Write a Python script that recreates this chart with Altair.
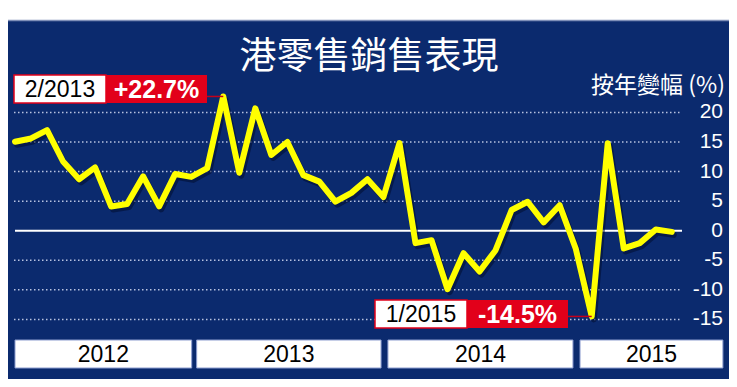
import altair as alt
import pandas as pd

# ---- data ----
values = [15.05, 15.6, 17.0, 11.7, 8.7, 10.7, 4.1, 4.5, 9.2, 4.1, 9.6, 9.1,
          10.6, 22.7, 9.8, 20.7, 12.8, 15.0, 9.4, 8.3, 4.9, 6.4, 8.7, 5.7,
          14.8, -2.1, -1.6, -9.9, -3.8, -6.9, -3.3, 3.5, 4.9, 1.4, 4.3, -3.0,
          -14.5, 14.8, -3.0, -2.1, 0.2, -0.2]
months = list(range(len(values)))  # 0 = 1/2012
y_ticks = [20, 15, 10, 5, -5, -10, -15]
tick_labels = ["20", "15", "10", "5", "0", "-5", "-10", "-15"]
tick_values = [20, 15, 10, 5, 0, -5, -10, -15]
years = ["2012", "2013", "2014", "2015"]
year_start = [0.0, 11.34, 23.28, 35.27]
year_end = [11.03, 22.85, 34.83, 44.19]
ann_month = [13, 36]
ann_value = [22.7, -14.5]
ann_date = ["2/2013", "1/2015"]
ann_pct = ["+22.7%", "-14.5%"]
title_text = "港零售銷售表現"
unit_text = "按年變幅 (%)"

W, H = 721, 371
BG = "#0b2a6e"
RED = "#e2001a"
NUM_FONT = "Liberation Sans, Arial, sans-serif"
CJK_FONT = "Noto Sans CJK TC, Noto Sans CJK SC, sans-serif"

xs = alt.Scale(domain=[-0.437, 44.57], nice=False, zero=False)
ys = alt.Scale(domain=[-25.08, 37.66], nice=False, zero=False)

df = pd.DataFrame({"m": months, "v": values})
grid_df = pd.DataFrame({"v": y_ticks})
zero_df = pd.DataFrame({"v": [0]})
tick_df = pd.DataFrame({"v": tick_values, "t": tick_labels})
year_df = pd.DataFrame({"y": years, "s": year_start, "e": year_end})
year_df["c"] = (year_df["s"] + year_df["e"]) / 2

X = lambda f: alt.X(f, scale=xs, axis=None)
Y = lambda f: alt.Y(f, scale=ys, axis=None)

layers = []

# top white band + thin border
band = pd.DataFrame({"k": [0]})
layers.append(alt.Chart(band).mark_rect(color="white").encode(
    x=alt.value(0), x2=alt.value(W), y=alt.value(0), y2=alt.value(12)))
layers.append(alt.Chart(band).mark_rule(color="#7f8fb8", strokeWidth=1.5).encode(
    x=alt.value(0), x2=alt.value(W), y=alt.value(12.5)))

# grid lines
layers.append(alt.Chart(grid_df).mark_rule(color="#b8c2e0", strokeDash=[1.5, 2.5], strokeWidth=1.5).encode(
    y=Y("v:Q"), x=alt.value(6), x2=alt.value(674)))
layers.append(alt.Chart(zero_df).mark_rule(color="white", strokeWidth=2).encode(
    y=Y("v:Q"), x=alt.value(7), x2=alt.value(674)))

# tick labels
layers.append(alt.Chart(tick_df).mark_text(align="right", baseline="middle", color="white",
                                          fontSize=21, font=NUM_FONT).encode(
    y=Y("v:Q"), x=alt.value(715), text="t:N"))

# line shadow + line
layers.append(alt.Chart(df).mark_line(color="#020d30", opacity=0.55, strokeWidth=6,
                                      strokeJoin="round", strokeCap="round",
                                      xOffset=2, yOffset=3).encode(x=X("m:Q"), y=Y("v:Q")))
layers.append(alt.Chart(df).mark_line(color="#ffff00", strokeWidth=6,
                                      strokeJoin="round", strokeCap="round").encode(
    x=X("m:Q"), y=Y("v:Q")))

# annotations
def annotation(i, bx, by):
    d = pd.DataFrame({"m": [ann_month[i]], "v": [ann_value[i]],
                      "d": [ann_date[i]], "p": [ann_pct[i]]})
    wx0, wx1, rx1 = bx, bx + 92, bx + 193
    out = [
        alt.Chart(d).mark_rule(color="#c4001a", strokeWidth=1.5).encode(
            x=X("m:Q"), x2=alt.value(rx1), y=Y("v:Q")),
        alt.Chart(d).mark_rect(fill="white", stroke=RED, strokeWidth=1.5).encode(
            x=alt.value(wx0), x2=alt.value(wx1), y=alt.value(by), y2=alt.value(by + 28)),
        alt.Chart(d).mark_rect(fill=RED).encode(
            x=alt.value(wx1), x2=alt.value(rx1), y=alt.value(by), y2=alt.value(by + 28)),
        alt.Chart(d).mark_text(align="center", baseline="middle", color="black",
                               fontSize=23, font=NUM_FONT).encode(
            x=alt.value((wx0 + wx1) / 2), y=alt.value(by + 15), text="d:N"),
        alt.Chart(d).mark_text(align="center", baseline="middle", color="white",
                               fontSize=25, fontWeight="bold", font=NUM_FONT).encode(
            x=alt.value((wx1 + rx1) / 2), y=alt.value(by + 15), text="p:N"),
    ]
    return out

layers += annotation(0, 6, 67)
layers += annotation(1, 367, 292)

# year boxes
layers.append(alt.Chart(year_df).mark_rect(fill="white", stroke="#8d9dcf", strokeWidth=1).encode(
    x=X("s:Q"), x2="e:Q", y=alt.value(332), y2=alt.value(360)))
layers.append(alt.Chart(year_df).mark_text(align="center", baseline="middle", color="black",
                                           fontSize=23, font=NUM_FONT).encode(
    x=X("c:Q"), y=alt.value(347), text="y:N"))

# title and unit
tdf = pd.DataFrame({"t": [title_text], "u": [unit_text]})
layers.append(alt.Chart(tdf).mark_text(align="center", baseline="middle", color="white",
                                       fontSize=37, font=CJK_FONT).encode(
    x=alt.value(361), y=alt.value(50), text="t:N"))
layers.append(alt.Chart(tdf).mark_text(align="right", baseline="middle", color="white",
                                       fontSize=23, font=CJK_FONT).encode(
    x=alt.value(717), y=alt.value(78), text="u:N"))

chart = alt.layer(*layers).properties(
    width=W, height=H, background=BG,
    autosize=alt.AutoSizeParams(type="none"),
    padding=0,
).configure_view(stroke=None)

chart.save("out.html", embed_options={"renderer": "svg", "actions": False})
